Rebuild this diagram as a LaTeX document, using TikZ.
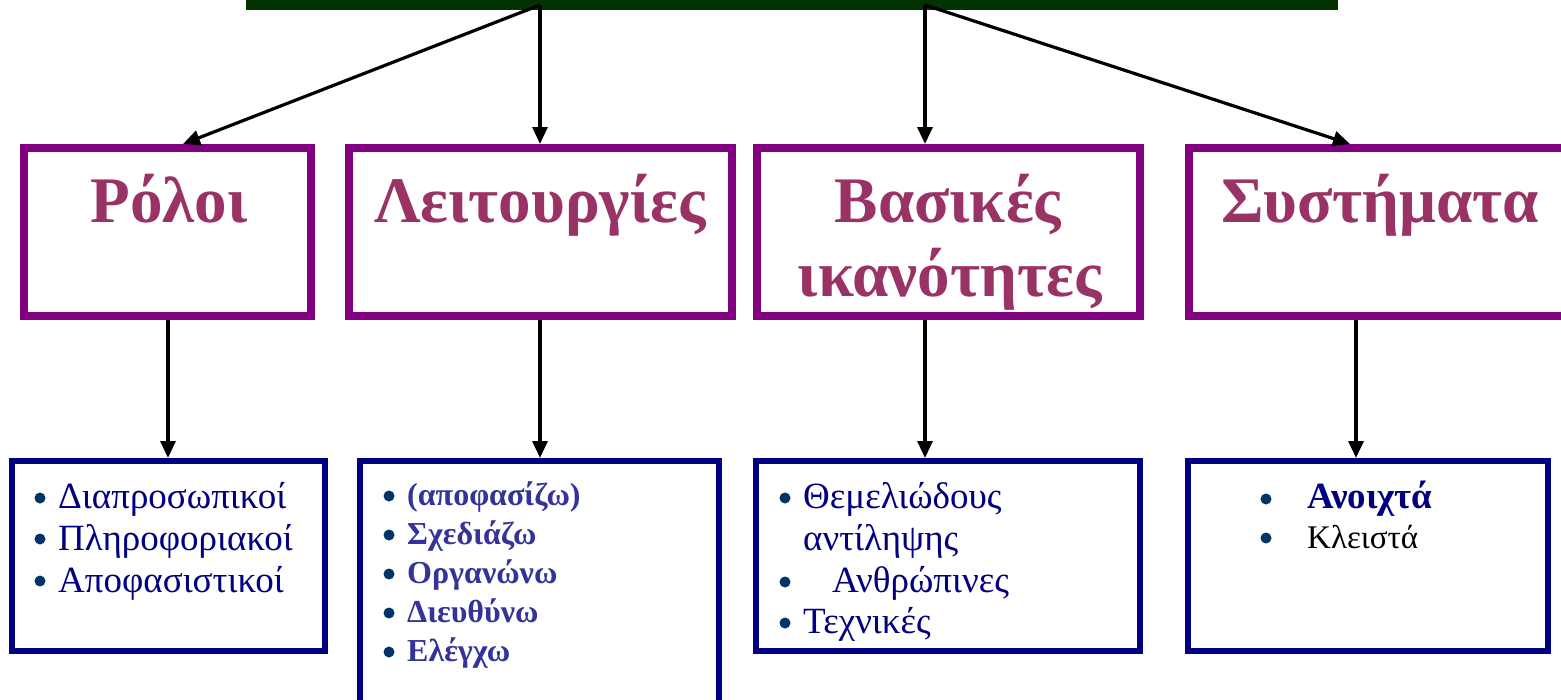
\documentclass[tikz,border=0pt]{standalone}
\usepackage{fontspec}
\setmainfont{Liberation Serif}
\usetikzlibrary{arrows.meta}
\definecolor{bargreen}{RGB}{3,51,3}
\definecolor{boxpurple}{RGB}{128,0,128}
\definecolor{titlecol}{RGB}{153,51,102}
\definecolor{navy}{RGB}{0,0,128}
\definecolor{bulletcol}{RGB}{0,51,102}
\definecolor{boldblue}{RGB}{51,51,153}
\tikzset{
  topbox/.style={draw=boxpurple, line width=8pt, rectangle, inner sep=0pt, fill=white},
  lowbox/.style={draw=navy, line width=6pt, rectangle, inner sep=0pt, fill=white},
  title/.style={anchor=base, inner sep=0pt, text=titlecol, font=\fontsize{65}{75}\selectfont\bfseries},
  item/.style={anchor=base west, inner sep=0pt, text=navy, font=\fontsize{37}{42}\selectfont},
  bitem/.style={anchor=base west, inner sep=0pt, text=boldblue, font=\fontsize{32}{39}\selectfont\bfseries},
  arr/.style={draw=black, line width=3.2pt, -{Triangle[length=17pt,width=15pt]}},
  dot/.style={fill=bulletcol}
}
\begin{document}
\begin{tikzpicture}[x=1pt,y=-1pt]
\useasboundingbox (0,0) rectangle (1561,699);
\clip (0,0) rectangle (1561,699);
% top bar
\fill[bargreen] (246,-5) rectangle (1338,10);
\coordinate (t1) at (540,5);
\coordinate (t2) at (925,5);
% upper boxes
\node[topbox, minimum width=287pt, minimum height=168pt] (b1) at (167.5,232) {};
\node[topbox, minimum width=383pt, minimum height=168pt] (b2) at (540.5,232) {};
\node[topbox, minimum width=383pt, minimum height=168pt] (b3) at (948.5,232) {};
\node[topbox, minimum width=411pt, minimum height=168pt] (b4) at (1394.5,232) {};
% lower boxes
\node[lowbox, minimum width=313pt, minimum height=190pt] (c1) at (168.5,556) {};
\node[lowbox, minimum width=359pt, minimum height=269pt] (c2) at (539.5,595.5) {};
\node[lowbox, minimum width=384pt, minimum height=190pt] (c3) at (948,556) {};
\node[lowbox, minimum width=360pt, minimum height=190pt] (c4) at (1368,556) {};
% titles
\node[title] (h1) at (169,222) {Ρόλοι};
\node[title] (h2) at (540,222) {Λειτουργίες};
\node[title] (h3) at (948,222) {Βασικές};
\node[title] (h3b) at (950,296) {ικανότητες};
\node[title] (h4) at (1380,222) {Συστήματα};
% arrow x positions
\coordinate (x1) at (183,0);
\coordinate (x4) at (1350,0);
\coordinate (y1) at (168,0);
\coordinate (y3) at (925,0);
\coordinate (y4) at (1356,0);
\draw[arr] (t1) -- (b1.north -| x1);
\draw[arr] (t1) -- (b2.north -| t1);
\draw[arr] (t2) -- (b3.north -| t2);
\draw[arr] (t2) -- (b4.north -| x4);
\draw[arr] (b1.south -| y1) -- (c1.north -| y1);
\draw[arr] (b2.south -| t1) -- (c2.north -| t1);
\draw[arr] (b3.south -| y3) -- (c3.north -| y3);
\draw[arr] (b4.south -| y4) -- (c4.north -| y4);
% box 1 items
\fill[dot] (40,498) circle (5.5);
\fill[dot] (40,539) circle (5.5);
\fill[dot] (40,581) circle (5.5);
\node[item] (a1) at (58,508) {Διαπροσωπικοί};
\node[item] (a2) at (58,550) {Πληροφοριακοί};
\node[item] (a3) at (58,592) {Αποφασιστικοί};
% box 2 items
\fill[dot] (389,496) circle (5.5);
\fill[dot] (389,535) circle (5.5);
\fill[dot] (389,574) circle (5.5);
\fill[dot] (389,613) circle (5.5);
\fill[dot] (389,652) circle (5.5);
\node[bitem] (d1) at (407,505) {(αποφασίζω)};
\node[bitem] (d2) at (407,544) {Σχεδιάζω};
\node[bitem] (d3) at (407,583) {Οργανώνω};
\node[bitem] (d4) at (407,622) {Διευθύνω};
\node[bitem] (d5) at (407,661) {Ελέγχω};
% box 3 items
\fill[dot] (785,498) circle (5.5);
\fill[dot] (785,582) circle (5.5);
\fill[dot] (785,623) circle (5.5);
\begin{scope}
\clip (756,461) rectangle (1140,641);
\node[item] (e1) at (803,508) {Θεμελιώδους};
\node[item] (e2) at (803,550) {αντίληψης};
\node[item] (e3) at (832,592) {Ανθρώπινες};
\node[item] (e4) at (803,633) {Τεχνικές};
\end{scope}
% box 4 items
\fill[dot] (1266,499) circle (5.5);
\fill[dot] (1266,538) circle (5.5);
\node[anchor=base west, inner sep=0pt, text=navy, font=\fontsize{37}{42}\selectfont\bfseries] (f1) at (1307,508) {Ανοιχτά};
\node[anchor=base west, inner sep=0pt, text=black, font=\fontsize{33}{40}\selectfont] (f2) at (1307,548) {Κλειστά};
\end{tikzpicture}
\end{document}
